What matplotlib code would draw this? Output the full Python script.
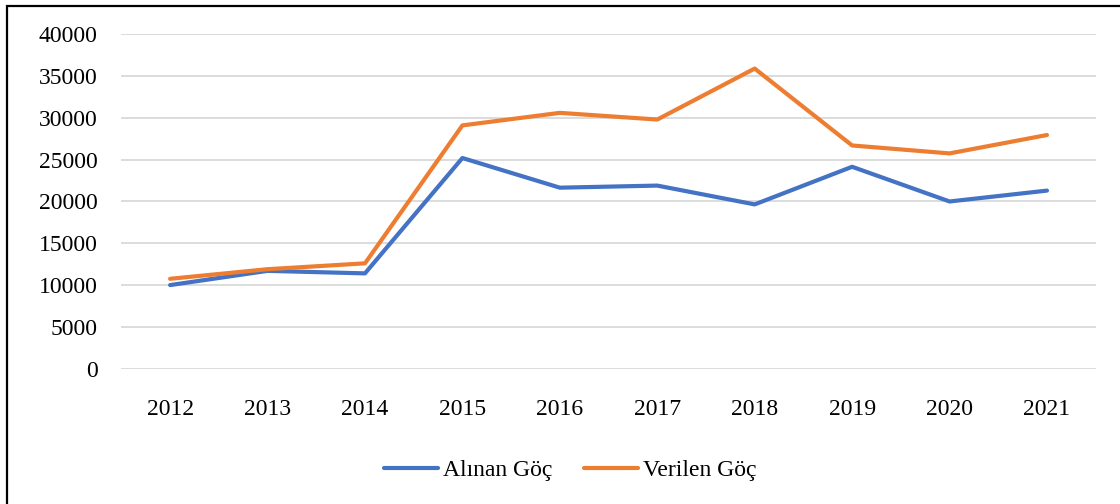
import matplotlib.pyplot as plt
from matplotlib.patches import Rectangle

years = ["2012", "2013", "2014", "2015", "2016", "2017", "2018", "2019", "2020", "2021"]
alinan = [10000, 11700, 11400, 25200, 21650, 21900, 19650, 24150, 20000, 21300]
verilen = [10750, 11900, 12600, 29100, 30600, 29800, 35900, 26700, 25750, 27950]

plt.rcParams['font.family'] = ['Liberation Serif', 'DejaVu Serif']

fig = plt.figure(figsize=(11.2, 5.04), dpi=100)
ax = fig.add_axes([0.1084, 0.2685, 0.8699, 0.6635])

x = range(len(years))
ax.plot(x, alinan, color="#4472C4", lw=3.0, label="Alınan Göç", solid_capstyle="round")
ax.plot(x, verilen, color="#ED7D31", lw=3.0, label="Verilen Göç", solid_capstyle="round")

ax.set_xlim(-0.5, len(years) - 0.5)
ax.set_ylim(0, 40000)
ax.set_yticks(range(0, 40001, 5000))
ax.set_xticks(list(x))
ax.set_xticklabels(years)
ax.tick_params(length=0, labelsize=17, colors="#000000")
ax.tick_params(axis="y", pad=17)
ax.tick_params(axis="x", pad=22)
ax.grid(axis="y", color="#d9d9d9", lw=1.3)
ax.set_axisbelow(True)
for s in ax.spines.values():
    s.set_visible(False)

fig.legend(loc="center", bbox_to_anchor=(570 / 1120, 1 - 470 / 504),
           ncol=2, frameon=False, fontsize=17, handlelength=2.3, columnspacing=1.35,
           handletextpad=0.2)

# black frame round the chart (runs off the right and bottom edge)
fig.patches.append(Rectangle((7 / 1120, -0.2), 1.2, 1.2 - 6 / 504, transform=fig.transFigure,
                             fill=False, edgecolor="black", lw=1.6))

fig.savefig("out.png")
